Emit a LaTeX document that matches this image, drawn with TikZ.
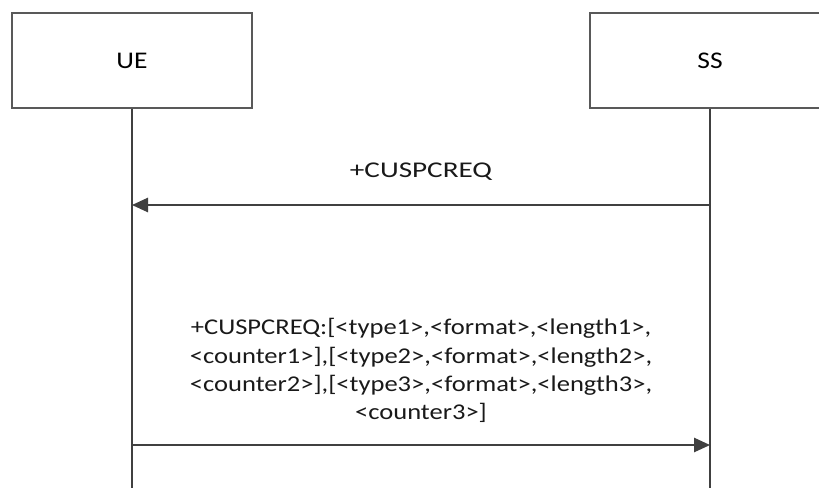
\documentclass[tikz,border=0pt]{standalone}
\usepackage{fontspec}
\setmainfont{Carlito}
\usetikzlibrary{arrows.meta,positioning}

\definecolor{linegray}{HTML}{404040}
\definecolor{boxgray}{HTML}{595959}

\begin{document}
\begin{tikzpicture}[
    entity/.style={draw=boxgray, line width=0.8pt, minimum width=6cm,
        minimum height=2.375cm, inner sep=0pt,
        font=\fontsize{17}{20}\selectfont},
    lifeline/.style={draw=linegray, line width=1pt},
    msg/.style={draw=linegray, line width=1pt,
        -{Triangle[length=4mm,width=3.6mm]}},
    msglabel/.style={font=\fontsize{16}{20}\selectfont, xscale=1.18,
        align=center, text=black!90, inner sep=0pt}
  ]
    \useasboundingbox (0,0) rectangle (20.475,-12.2);

    % entities
    \node[entity] (ue) at (3.3,-1.5125) {\scalebox{1.15}[1]{UE}};
    \node[entity] (ss) at (17.75,-1.5125) {\scalebox{1.15}[1]{SS}};

    % lifelines
    \coordinate (ueend) at (3.3,-12.2);
    \coordinate (ssend) at (17.75,-12.2);
    \draw[lifeline] (ue.south) -- (ueend);
    \draw[lifeline] (ss.south) -- (ssend);

    % request from SS
    \coordinate (ue1) at (3.3,-5.125);
    \coordinate (ss1) at (17.75,-5.125);
    \draw[msg] (ss1) -- (ue1)
        node[msglabel, xscale=1.1, midway, above=0.6cm] (req) {+CUSPCREQ};

    % response from UE
    \coordinate (ue2) at (3.3,-11.125);
    \coordinate (ss2) at (17.75,-11.125);
    \draw[msg] (ue2) -- (ss2)
        node[msglabel, midway, above=0.55cm] (rsp)
        {+CUSPCREQ:[<type1>,<format>,<length1>,\\
         <counter1>],[<type2>,<format>,<length2>,\\
         <counter2>],[<type3>,<format>,<length3>,\\
         <counter3>]};

\end{tikzpicture}
\end{document}
